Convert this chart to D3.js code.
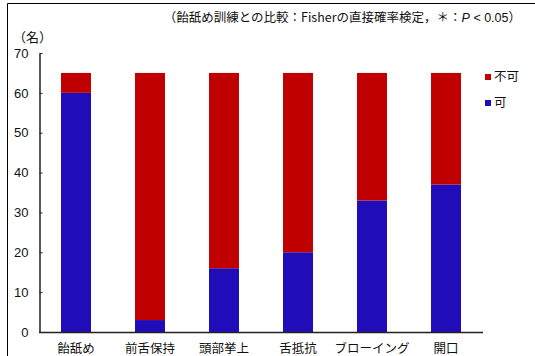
<!DOCTYPE html>
<html>
<head>
<meta charset="utf-8">
<script src="https://cdn.jsdelivr.net/npm/d3@7"></script>
<style>
  html, body { margin: 0; padding: 0; background: #fff; }
  svg { display: block; font-family: "Liberation Sans", Arial, "Noto Sans CJK JP", sans-serif; }
</style>
</head>
<body>
<script>
// Training methods and number of subjects who could / could not do each
const categories = ["飴舐め", "前舌保持", "頭部挙上", "舌抵抗", "ブローイング", "開口"];
const canValues = [60, 3, 16, 20, 33, 37];
const cannotValues = [5, 62, 49, 45, 32, 28];
const yTicks = [0, 10, 20, 30, 40, 50, 60, 70];
const seriesNames = ["可", "不可"];
const seriesColors = ["#200cb8", "#c00000"];

const W = 535, H = 356;
const svg = d3.select("body").append("svg").attr("width", W).attr("height", H);

// outer frame (top and left edges)
svg.append("path")
  .attr("d", `M7.5,${H} V3.5 H${W}`)
  .attr("fill", "none").attr("stroke", "#000").attr("stroke-width", 1);

const x = d3.scaleBand().domain(categories).range([39, 483]).paddingInner(0.595).paddingOuter(0.2975);
const y = d3.scaleLinear().domain([0, 70]).range([332, 53]);

const rows = categories.map((c, i) => ({ cat: c, "可": canValues[i], "不可": cannotValues[i] }));
const stack = d3.stack().keys(seriesNames)(rows);

svg.append("g").selectAll("g").data(stack).join("g")
  .attr("fill", (d, i) => seriesColors[i])
  .selectAll("rect").data(d => d).join("rect")
  .attr("x", d => x(d.data.cat))
  .attr("width", x.bandwidth())
  .attr("y", d => y(d[1]))
  .attr("height", d => y(d[0]) - y(d[1]));

// y axis
const yAxis = svg.append("g").attr("transform", "translate(39.5,0)")
  .call(d3.axisLeft(y).tickValues(yTicks).tickSizeInner(-3).tickSizeOuter(0).tickPadding(11));
yAxis.select(".domain").attr("stroke", "#222").attr("stroke-width", 1.5);
yAxis.selectAll(".tick line").attr("stroke", "#222");
yAxis.selectAll(".tick text").attr("font-size", 13).attr("fill", "#111")
  .attr("font-family", "Liberation Sans, Arial, sans-serif");

// x axis
const xAxis = svg.append("g").attr("transform", "translate(0,332.5)")
  .call(d3.axisBottom(x).tickSize(0).tickPadding(12));
xAxis.select(".domain").attr("stroke", "#222").attr("stroke-width", 1.5)
  .attr("d", "M39,0H483");
xAxis.selectAll(".tick text").attr("font-size", 12.5).attr("fill", "#111")
  .attr("font-family", "Noto Sans CJK JP, sans-serif");

// unit label
svg.append("text").attr("x", 13).attr("y", 42).attr("font-size", 13)
  .attr("font-family", "Noto Sans CJK JP, sans-serif").attr("fill", "#111").text("（名）");

// note
const note = svg.append("text").attr("x", 521).attr("y", 22).attr("text-anchor", "end")
  .attr("font-size", 12.5).attr("fill", "#111")
  .attr("font-family", "Noto Sans CJK JP, sans-serif");
note.append("tspan").text("（飴舐め訓練との比較：Fisherの直接確率検定，＊：");
note.append("tspan").attr("font-style", "italic").attr("font-family", "Liberation Sans, Arial, sans-serif").text("P");
note.append("tspan").attr("font-family", "Liberation Sans, Arial, sans-serif").text(" < 0.05");
note.append("tspan").text("）");

// legend
const legendItems = [{ name: "不可", color: seriesColors[1] }, { name: "可", color: seriesColors[0] }];
const lg = svg.append("g").selectAll("g").data(legendItems).join("g")
  .attr("transform", (d, i) => `translate(485,${74 + i * 26})`);
lg.append("rect").attr("width", 6).attr("height", 6).attr("fill", d => d.color);
lg.append("text").attr("x", 9).attr("y", 7).attr("font-size", 12.5)
  .attr("font-family", "Noto Sans CJK JP, sans-serif").attr("fill", "#111").text(d => d.name);
</script>
</body>
</html>
